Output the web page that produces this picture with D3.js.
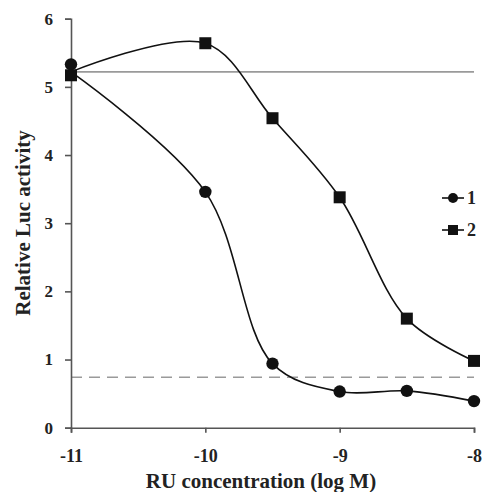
<!DOCTYPE html>
<html><head><meta charset="utf-8">
<script src="https://cdn.jsdelivr.net/npm/d3@7"></script>
<style>body{margin:0;background:#fff}svg{display:block}</style>
</head><body>
<script>
// Data
const xTicks = [-11, -10, -9, -8];
const yTicks = [0, 1, 2, 3, 4, 5, 6];
const conc = [-11, -10, -9.5, -9, -8.5, -8];
const series1 = [5.33, 3.46, 0.94, 0.53, 0.54, 0.39];   // circles, "1"
const series2 = [5.17, 5.64, 4.54, 3.38, 1.60, 0.98];   // squares, "2"
const curve1 = [5.22, 3.46, 0.94, 0.53, 0.54, 0.39];    // fitted line 1
const curve2 = [5.22, 5.64, 4.54, 3.38, 1.60, 0.98];    // fitted line 2
const controlLevel = 5.22;   // solid gray reference
const baselineLevel = 0.74;  // dashed gray reference
const legendLabels = ["1", "2"];
const xTitle = "RU concentration (log M)";
const yTitle = "Relative Luc activity";

const W = 482, H = 492;
const x = d3.scaleLinear().domain([-11, -8]).range([71, 474]);
const y = d3.scaleLinear().domain([0, 6]).range([427.7, 18.7]);
const font = "'Liberation Serif', 'Times New Roman', serif";

const svg = d3.select("body").append("svg").attr("width", W).attr("height", H);

// reference lines
svg.append("line").attr("x1", x(-11)).attr("x2", x(-8)).attr("y1", y(controlLevel)).attr("y2", y(controlLevel))
  .attr("stroke", "#9a9a9a").attr("stroke-width", 1.6);
svg.append("line").attr("x1", x(-11)).attr("x2", x(-8)).attr("y1", y(baselineLevel)).attr("y2", y(baselineLevel))
  .attr("stroke", "#9a9a9a").attr("stroke-width", 1.6).attr("stroke-dasharray", "11,7");

// axes
const yAxis = svg.append("g").attr("transform", `translate(${x(-11)},0)`)
  .call(d3.axisLeft(y).tickValues(yTicks).tickFormat(d3.format("d")).tickSize(6).tickPadding(12));
const xAxis = svg.append("g").attr("transform", `translate(0,${y(0)})`)
  .call(d3.axisBottom(x).tickValues(xTicks).tickFormat(d3.format("d")).tickSize(5).tickPadding(17));
[xAxis, yAxis].forEach(g => {
  g.select(".domain").attr("stroke", "#555").attr("stroke-width", 1.6);
  g.selectAll(".tick line").attr("stroke", "#555").attr("stroke-width", 1.6);
  g.selectAll("text").attr("font-family", font).attr("font-weight", "bold").attr("fill", "#222");
});
yAxis.selectAll("text").attr("font-size", 17);
xAxis.selectAll("text").attr("font-size", 18).text(d => d < 0 ? "-" + Math.abs(d) : d);

// curves
const line = d3.line().curve(d3.curveCatmullRom.alpha(0.5)).x((d, i) => x(conc[i])).y(d => y(d));
[curve1, curve2].forEach(c => svg.append("path").attr("d", line(c)).attr("fill", "none")
  .attr("stroke", "#111").attr("stroke-width", 1.6));

// markers
svg.append("g").selectAll("circle").data(series1).join("circle")
  .attr("cx", (d, i) => x(conc[i])).attr("cy", d => y(d)).attr("r", 6.2).attr("fill", "#111");
svg.append("g").selectAll("rect").data(series2).join("rect")
  .attr("x", (d, i) => x(conc[i]) - 6).attr("y", d => y(d) - 6).attr("width", 12).attr("height", 12).attr("fill", "#111");

// legend
const lg = svg.append("g");
legendLabels.forEach((lab, i) => {
  const ly = 198 + i * 32;
  lg.append("line").attr("x1", 442).attr("x2", 464).attr("y1", ly).attr("y2", ly).attr("stroke", "#111").attr("stroke-width", 1.6);
  if (i === 0) lg.append("circle").attr("cx", 453).attr("cy", ly).attr("r", 5).attr("fill", "#111");
  else lg.append("rect").attr("x", 448).attr("y", ly - 5).attr("width", 10).attr("height", 10).attr("fill", "#111");
  lg.append("text").attr("x", 467).attr("y", ly + 6).text(lab)
    .attr("font-family", font).attr("font-weight", "bold").attr("font-size", 18).attr("fill", "#222");
});

// titles
svg.append("text").attr("x", 261).attr("y", 488).attr("text-anchor", "middle").text(xTitle)
  .attr("font-family", font).attr("font-weight", "bold").attr("font-size", 21).attr("fill", "#222");
svg.append("text").attr("transform", "translate(30,223) rotate(-90)").attr("text-anchor", "middle").text(yTitle)
  .attr("font-family", font).attr("font-weight", "bold").attr("font-size", 21).attr("fill", "#222");
</script>
</body></html>
